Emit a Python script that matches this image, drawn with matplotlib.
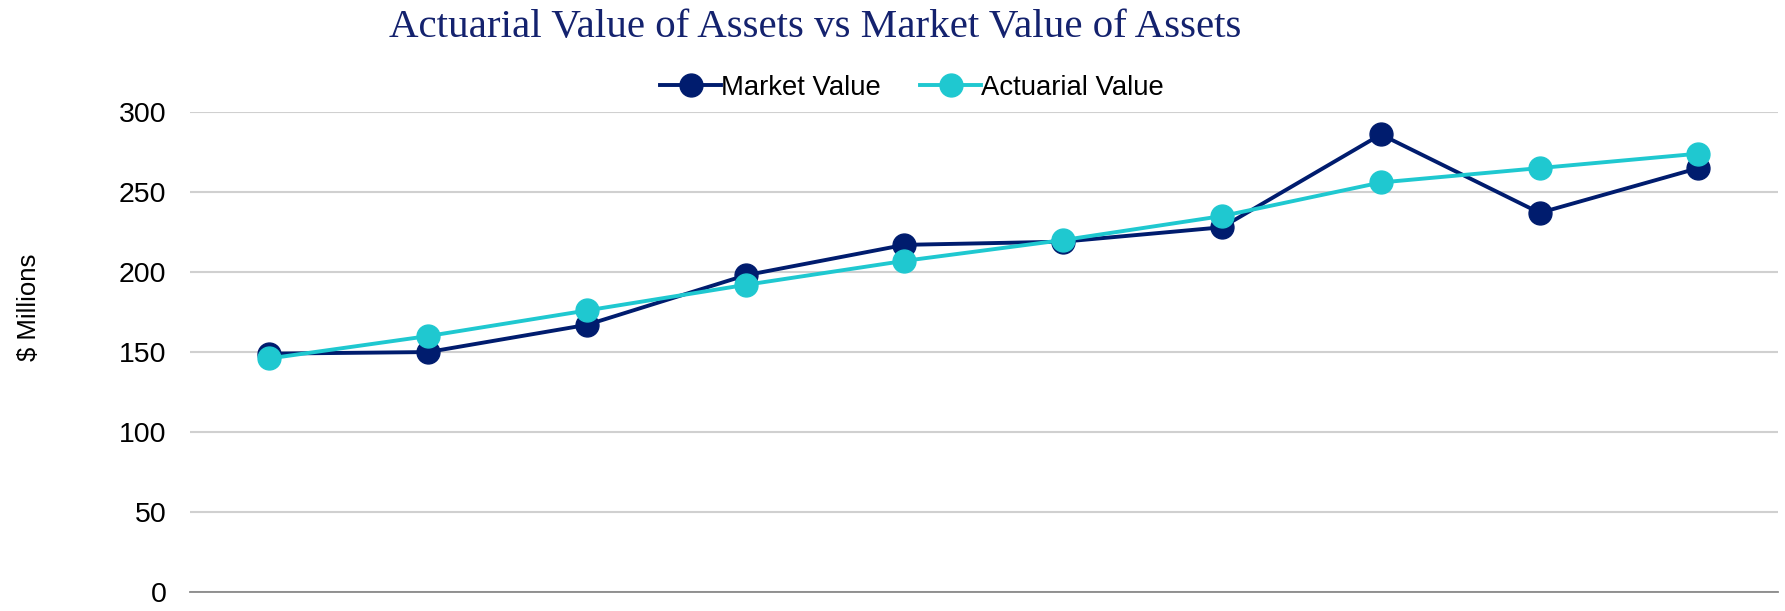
import numpy as np
import matplotlib
matplotlib.use('Agg')
import matplotlib.pyplot as plt

# values, $ millions, 10 valuation dates (no x labels shown)
market_value = [149, 150, 167, 198, 217, 219, 228, 286, 237, 265]
actuarial_value = [146, 160, 176, 192, 207, 220, 235, 256, 265, 274]
yticks = [0, 50, 100, 150, 200, 250, 300]

navy = '#001c6e'
cyan = '#1fc8d0'

plt.rcParams['font.family'] = ['Liberation Sans', 'DejaVu Sans']

fig = plt.figure(figsize=(17.85, 6.11), dpi=100)
ax = fig.add_axes([0.1064, 0.031, 0.8896, 0.7856])

x = np.arange(len(market_value))
ax.plot(x, market_value, color=navy, lw=2.8, marker='o', ms=16.5, label='Market Value', zorder=3)
ax.plot(x, actuarial_value, color=cyan, lw=2.8, marker='o', ms=16.5, label='Actuarial Value', zorder=4)

ax.set_xlim(-0.5, len(x) - 0.5)
ax.set_ylim(0, 300)
ax.set_yticks(yticks)
ax.set_xticks([])
ax.tick_params(axis='y', length=0, labelsize=20.5, pad=17)
ax.yaxis.grid(True, color='#d0d0d0', lw=1.5)
ax.set_axisbelow(True)
for s in ['top', 'right', 'left']:
    ax.spines[s].set_visible(False)
ax.spines['bottom'].set_color('#8a8a8a')
ax.spines['bottom'].set_linewidth(1.3)

fig.text(29 / 1785, 1 - 307 / 611, '$ Millions', rotation=90, fontsize=18.5,
         ha='center', va='center')
fig.text(815 / 1785, 1 - 28 / 611, 'Actuarial Value of Assets vs Market Value of Assets',
         fontsize=29.5, color='#14226e', family='Liberation Serif', ha='center', va='center')

fig.legend(loc='center', bbox_to_anchor=(912 / 1785, 1 - 88 / 611), ncol=2, frameon=False,
           fontsize=19.8, handlelength=2.2, handletextpad=0.0, columnspacing=1.45, markerscale=1.0)

fig.savefig('out.png', dpi=100)
